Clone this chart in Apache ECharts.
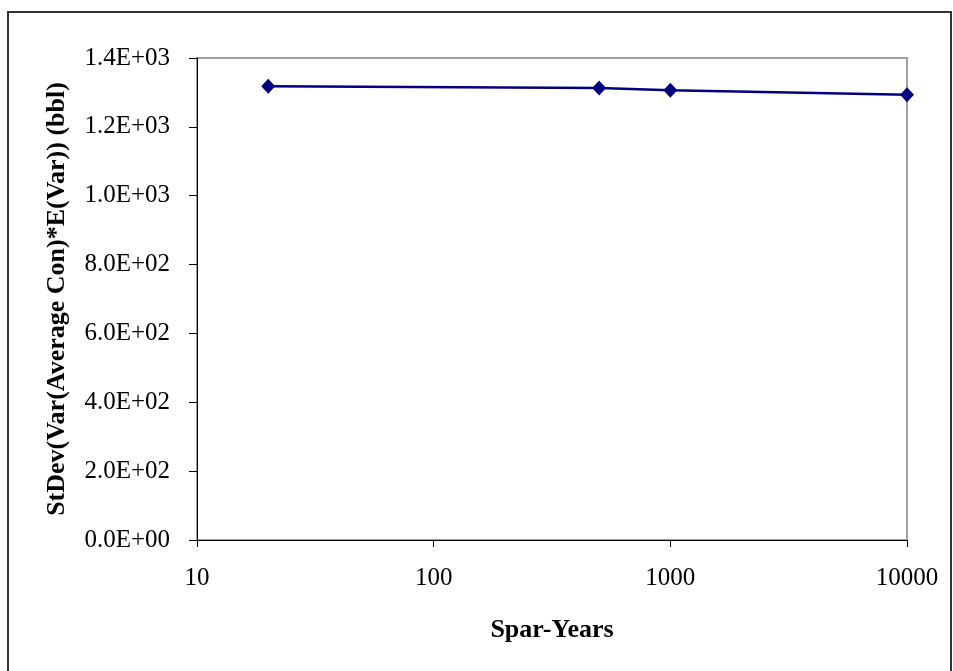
<!DOCTYPE html>
<html>
<head>
<meta charset="utf-8">
<script src="https://cdn.jsdelivr.net/npm/echarts@6/dist/echarts.min.js"></script>
<style>
  html, body { margin: 0; padding: 0; background: #fff; }
  #chart { width: 953px; height: 671px; }
</style>
</head>
<body>
<div id="chart"></div>
<script>
// Spar-years sampled and the resulting standard deviation (bbl)
const sparYears = [20, 500, 1000, 10000];
const stdevValues = [1318, 1313, 1306, 1293];

const xAxisTitle = 'Spar-Years';
const yAxisTitle = 'StDev(Var(Average Con)*E(Var)) (bbl)';

const FONT = '"Liberation Serif", "Times New Roman", serif';

// Scientific notation in the form 1.4E+03
function sci(v) {
  const parts = Number(v).toExponential(1).split('e');
  const n = parseInt(parts[1], 10);
  return parts[0] + 'E' + (n < 0 ? '-' : '+') + String(Math.abs(n)).padStart(2, '0');
}

const chart = echarts.init(document.getElementById('chart'), null, { renderer: 'canvas' });

chart.setOption({
  animation: false,
  backgroundColor: '#ffffff',
  graphic: [{
    type: 'rect',
    shape: { x: 8, y: 12, width: 943, height: 700 },
    style: { fill: 'none', stroke: '#333333', lineWidth: 2 },
    silent: true,
    z: -1
  }],
  grid: {
    left: 197, right: 46, top: 58, bottom: 131,
    show: true,
    borderColor: '#a0a0a0',
    borderWidth: 2,
    backgroundColor: 'transparent'
  },
  xAxis: {
    type: 'log',
    logBase: 10,
    min: 10,
    max: 10000,
    name: xAxisTitle,
    nameLocation: 'middle',
    nameGap: 77,
    nameTextStyle: { fontFamily: FONT, fontSize: 26, fontWeight: 'bold', color: '#000' },
    axisLine: { show: true, onZero: false, lineStyle: { color: '#000', width: 1 } },
    axisTick: { show: true, inside: false, length: 7, lineStyle: { color: '#000', width: 1 } },
    minorTick: { show: false },
    splitLine: { show: false },
    axisLabel: {
      fontFamily: FONT, fontSize: 25, color: '#000', margin: 26,
      formatter: v => String(Math.round(v))
    }
  },
  yAxis: {
    type: 'value',
    min: 0,
    max: 1400,
    interval: 200,
    name: yAxisTitle,
    nameLocation: 'middle',
    nameGap: 127,
    nameTextStyle: { fontFamily: FONT, fontSize: 26, fontWeight: 'bold', color: '#000' },
    axisLine: { show: true, lineStyle: { color: '#000', width: 1 } },
    axisTick: { show: true, inside: false, length: 8, lineStyle: { color: '#000', width: 1 } },
    splitLine: { show: false },
    axisLabel: {
      fontFamily: FONT, fontSize: 25, color: '#000', margin: 27,
      formatter: v => sci(v)
    }
  },
  series: [{
    type: 'line',
    data: sparYears.map((x, i) => [x, stdevValues[i]]),
    symbol: 'diamond',
    symbolSize: [14, 15],
    showSymbol: true,
    lineStyle: { color: '#000080', width: 2.5 },
    itemStyle: { color: '#000080' },
    z: 3
  }]
});
</script>
</body>
</html>
